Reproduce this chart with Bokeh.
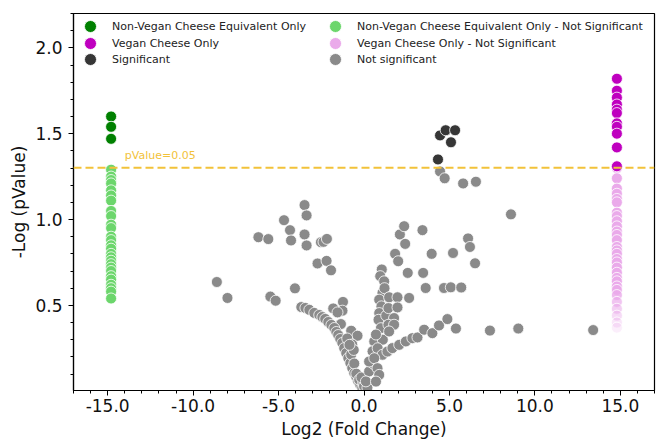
import numpy as np
from bokeh.plotting import figure
from bokeh.models import (Range1d, SingleIntervalTicker, PrintfTickFormatter, Span,
                          Label, Legend, LegendItem, ColumnDataSource)
from bokeh.embed import file_html
from bokeh.resources import INLINE

# ---------------- data ----------------
# log2 fold change given to features found in one group only
ONLY_NONVEGAN_X = -14.8
ONLY_VEGAN_X = 14.8
P_THRESHOLD = 0.05

nonvegan_sig_y = [1.60, 1.54, 1.47]
nonvegan_ns_y = [1.29, 1.25, 1.23, 1.21, 1.17, 1.14, 1.11, 1.05, 1.02, 0.97, 0.95,
                 0.90, 0.88, 0.85, 0.83, 0.80, 0.78, 0.76, 0.74, 0.72, 0.70, 0.67,
                 0.65, 0.62, 0.60, 0.58, 0.54]

vegan_sig_y = [1.82, 1.75, 1.71, 1.67, 1.64, 1.62, 1.56, 1.54, 1.50, 1.42, 1.31]
vegan_ns_y = [1.30, 1.24, 1.18, 1.15, 1.12, 1.10, 1.04, 1.02, 0.99, 0.96, 0.93,
              0.91, 0.88, 0.84, 0.82, 0.80, 0.77, 0.75, 0.72, 0.69, 0.66, 0.64,
              0.61, 0.59, 0.56, 0.52, 0.48, 0.44, 0.40, 0.37]

sig_x = [4.45, 4.78, 5.33, 5.09, 4.33]
sig_y = [1.49, 1.52, 1.52, 1.45, 1.35]

ns_x = [-3.48, -3.36, -4.68, -4.33, -3.48, -4.27, -3.36, -6.18, -5.60, -2.52, -2.37,
        -2.17, -2.72, -2.19, -1.93, -8.61, -7.99, -5.48, -5.17, -4.04, -1.23, -1.80,
        -1.26, -1.55, -1.35, -0.75, -0.38,
        -3.67, -3.43, -3.20, -2.91, -2.62, -2.44, -2.27, -2.09, -1.91, -1.74, -1.62,
        -1.51, -1.39, -1.27, -1.16, -1.04, -0.92, -0.80, -0.69, -0.57, -0.45, -0.34,
        -0.22,
        -0.98, -0.69, -0.75, -0.57, -0.45, -0.28, -0.10, -0.05, 0.05, -0.60, -0.85,
        0.00, 0.10, 0.20, -0.15,
        1.04, 0.95, 1.18, 1.08, 0.89, 1.02, 0.89, 0.85, 0.99, 0.60, 0.50, 0.40, 0.30,
        0.11, 1.20, 1.30, 1.10, 0.70, 0.80, 0.55,
        1.82, 2.00, 2.10, 2.35, 2.41, 1.47, 1.96, 2.64, 1.43, 1.96, 1.76, 1.43, 1.76,
        1.47, 2.56, 3.42, 3.46, 3.61, 3.96, 4.68, 5.08, 5.21,
        1.08, 1.37, 1.66, 2.06, 2.45, 2.83, 3.13, 3.52, 4.00, 4.39, 4.88, 0.30, 0.60,
        0.79, 0.89, 0.70,
        4.45, 4.72, 5.80, 6.55, 6.09, 6.20, 6.50, 8.60, 5.38, 7.37, 9.03, 13.41, 5.69]
ns_y = [1.084, 1.024, 0.996, 0.938, 0.913, 0.878, 0.849, 0.897, 0.886, 0.868, 0.870,
        0.887, 0.744, 0.759, 0.704, 0.636, 0.543, 0.551, 0.527, 0.599, 0.520, 0.482,
        0.469, 0.459, 0.391, 0.352, 0.323,
        0.490, 0.485, 0.474, 0.456, 0.444, 0.432, 0.421, 0.403, 0.386, 0.368, 0.345,
        0.327, 0.304, 0.281, 0.251, 0.222, 0.193, 0.164, 0.135, 0.105, 0.082, 0.058,
        0.039,
        0.307, 0.272, 0.213, 0.161, 0.102, 0.067, 0.020, 0.050, 0.010, 0.240, 0.270,
        0.030, 0.060, 0.020, 0.080,
        0.709, 0.670, 0.640, 0.572, 0.533, 0.494, 0.455, 0.416, 0.367, 0.290, 0.232,
        0.174, 0.115, 0.057, 0.600, 0.440, 0.300, 0.330, 0.250, 0.160,
        0.800, 0.757, 0.913, 0.961, 0.858, 0.547, 0.547, 0.543, 0.484, 0.488, 0.426,
        0.387, 0.387, 0.348, 0.689, 0.938, 0.689, 0.601, 0.800, 0.601, 0.605, 0.805,
        0.212, 0.231, 0.251, 0.270, 0.290, 0.309, 0.313, 0.358, 0.338, 0.383, 0.420,
        0.173, 0.192, 0.134, 0.095, 0.056,
        1.280, 1.240, 1.210, 1.220, 0.890, 0.840, 0.745, 1.030, 0.365, 0.353, 0.365,
        0.356, 0.604]

x_ticks_major = 5
y_ticks_major = 0.5

# ---------------- styles ----------------
FONT = "DejaVu Sans"
C_NV_SIG = "#008000"
C_V_SIG = "#bf00bf"
C_SIG = "#363636"
C_NV_NS = "#6cd66c"
C_V_NS = "#eaaaea"
C_NS = "#8a8a8a"
C_LINE = "#f2c23a"
MS = 11

p = figure(width=656, height=441, x_range=Range1d(-17, 17), y_range=Range1d(0.004, 2.2),
           output_backend="svg", toolbar_location=None,
           min_border_left=73, min_border_right=2, min_border_top=13, min_border_bottom=0)
p.grid.visible = False
p.outline_line_color = "black"
p.outline_line_width = 1.2
p.background_fill_color = "white"

src_ns = ColumnDataSource(dict(x=ns_x, y=ns_y))
r_ns = p.scatter("x", "y", source=src_ns, size=MS, fill_color=C_NS, line_color="white",
                 line_width=0.8)

src_nvns = ColumnDataSource(dict(x=[ONLY_NONVEGAN_X] * len(nonvegan_ns_y), y=nonvegan_ns_y))
r_nvns = p.scatter("x", "y", source=src_nvns, size=MS, fill_color=C_NV_NS,
                   line_color="white", line_width=0.8)

vns_alpha = list(np.clip(0.2 + (np.array(vegan_ns_y) - 0.37) * 3.2, 0.2, 1.0))
src_vns = ColumnDataSource(dict(x=[ONLY_VEGAN_X] * len(vegan_ns_y), y=vegan_ns_y, a=vns_alpha))
r_vns = p.scatter("x", "y", source=src_vns, size=MS, fill_color=C_V_NS, fill_alpha="a",
                  line_color="white", line_width=0.8)

src_sig = ColumnDataSource(dict(x=sig_x, y=sig_y))
r_sig = p.scatter("x", "y", source=src_sig, size=MS, fill_color=C_SIG, line_color="white",
                  line_width=0.8)

src_nvs = ColumnDataSource(dict(x=[ONLY_NONVEGAN_X] * len(nonvegan_sig_y), y=nonvegan_sig_y))
r_nvs = p.scatter("x", "y", source=src_nvs, size=MS, fill_color=C_NV_SIG,
                  line_color="white", line_width=0.8)

src_vs = ColumnDataSource(dict(x=[ONLY_VEGAN_X] * len(vegan_sig_y), y=vegan_sig_y))
r_vs = p.scatter("x", "y", source=src_vs, size=MS, fill_color=C_V_SIG,
                 line_color="white", line_width=0.8)

thr = -np.log10(P_THRESHOLD)
p.add_layout(Span(location=thr, dimension="width", line_color=C_LINE, line_width=2,
                  line_dash="8 4"))
p.add_layout(Label(x=-14.0, y=thr + 0.035, text="pValue=0.05", text_color=C_LINE,
                   text_font=FONT, text_font_size="11px", text_baseline="bottom"))

# axes
p.xaxis.ticker = SingleIntervalTicker(interval=x_ticks_major, num_minor_ticks=5)
p.yaxis.ticker = SingleIntervalTicker(interval=y_ticks_major, num_minor_ticks=5)
p.xaxis.formatter = PrintfTickFormatter(format="%.1f")
p.yaxis.formatter = PrintfTickFormatter(format="%.1f")
p.xaxis.axis_label = "Log2 (Fold Change)"
p.yaxis.axis_label = "-Log (pValue)"
for ax in (p.xaxis[0], p.yaxis[0]):
    ax.axis_line_color = "black"
    ax.axis_line_width = 1.2
    ax.major_tick_line_color = "black"
    ax.minor_tick_line_color = "black"
    ax.major_tick_out = 5
    ax.major_tick_in = 0
    ax.minor_tick_out = 3
    ax.minor_tick_in = 0
    ax.major_label_text_font = FONT
    ax.major_label_text_font_size = "17px"
    ax.major_label_text_color = "#111111"
    ax.axis_label_text_font = FONT
    ax.axis_label_text_font_size = "17px"
    ax.axis_label_text_font_style = "normal"
    ax.axis_label_text_color = "#111111"
    ax.major_label_standoff = 3
    ax.axis_label_standoff = 4
p.yaxis[0].major_label_standoff = 6
p.yaxis[0].axis_label_standoff = 3

# legends: one single-row legend per entry, two columns of three rows
def make_legend(item, loc):
    return Legend(items=[item], location=loc, orientation="vertical",
                  glyph_width=30, glyph_height=30, label_height=30, spacing=0,
                  padding=0, margin=0, label_standoff=7,
                  label_text_font=FONT, label_text_font_size="11px",
                  label_text_color="#222222",
                  border_line_alpha=0, background_fill_alpha=0)

col1 = [("Non-Vegan Cheese Equivalent Only", r_nvs),
        ("Vegan Cheese Only", r_vs),
        ("Significant", r_sig)]
col2 = [("Non-Vegan Cheese Equivalent Only - Not Significant", r_nvns),
        ("Vegan Cheese Only - Not Significant", r_vns),
        ("Not significant", r_ns)]
row_y = [349, 332, 316]
for (lab, r), yy in zip(col1, row_y):
    p.add_layout(make_legend(LegendItem(label=lab, renderers=[r]), (2, yy)))
for (lab, r), yy in zip(col2, row_y):
    p.add_layout(make_legend(LegendItem(label=lab, renderers=[r]), (247, yy)))

open("out.html", "w").write(file_html(p, INLINE))
